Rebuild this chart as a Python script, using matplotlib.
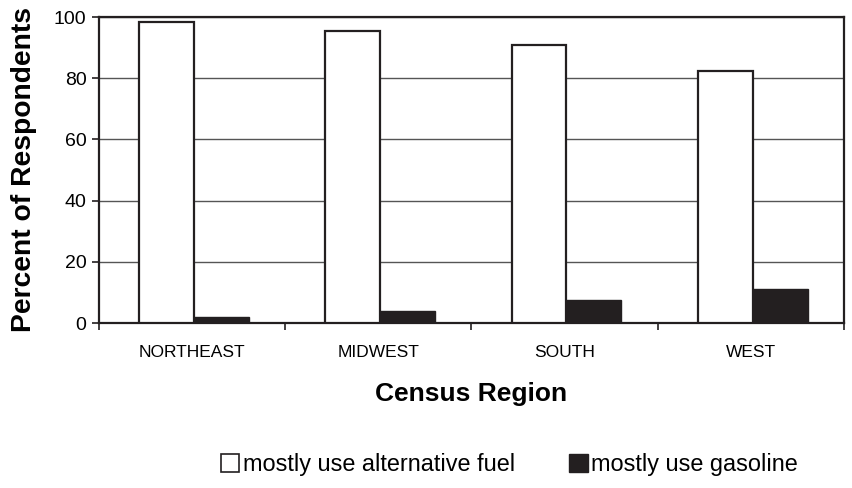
import numpy as np
import matplotlib.pyplot as plt
from matplotlib.patches import Patch

regions = ["NORTHEAST", "MIDWEST", "SOUTH", "WEST"]
alt_fuel = [98.3, 95.4, 91.0, 82.5]
gasoline = [1.8, 3.9, 7.5, 11.1]
yticks = [0, 20, 40, 60, 80, 100]

plt.rcParams['font.family'] = ['Liberation Sans', 'DejaVu Sans']

fig = plt.figure(figsize=(8.53, 4.88), dpi=100)
ax = fig.add_axes([99 / 853, 1 - 323 / 488, 745 / 853, 306 / 488])

x = np.arange(len(regions))
w = 0.295
ax.bar(x + 0.215, alt_fuel, width=w, align='edge', color='white', edgecolor='#231f20', linewidth=1.6, zorder=3)
ax.bar(x + 0.215 + w, gasoline, width=w, align='edge', color='#231f20', edgecolor='#231f20', linewidth=1.0, zorder=3)

ax.set_xlim(0, 4)
ax.set_ylim(0, 100)
ax.set_yticks(yticks)
ax.yaxis.grid(True, color='#555555', linewidth=1.0, zorder=0)
ax.set_xticks(np.arange(0, 5))
ax.set_xticklabels([])
ax.set_xticks(x + 0.5, minor=True)
ax.set_xticklabels(regions, minor=True, fontsize=12.5)
ax.tick_params(axis='x', which='minor', length=0, pad=16)
ax.tick_params(axis='x', which='major', length=5, width=1.2, direction='out', color='#231f20')
ax.tick_params(axis='y', length=5, width=1.2, direction='out', color='#231f20', labelsize=14, pad=4)
for s in ax.spines.values():
    s.set_color('#231f20')
    s.set_linewidth(1.6)

ax.set_xlabel("Census Region", fontsize=19, fontweight='bold', labelpad=16)
ax.set_ylabel("Percent of Respondents", fontsize=20.3, fontweight='bold', labelpad=12)

handles = [Patch(facecolor='white', edgecolor='#231f20', linewidth=1.2),
           Patch(facecolor='#231f20', edgecolor='#231f20')]
fig.legend(handles, ["mostly use alternative fuel", "mostly use gasoline"],
           loc='center', bbox_to_anchor=(0.597, 1 - 465 / 488), ncol=2, frameon=False,
           fontsize=16.9, handlelength=0.8, handleheight=0.8, handletextpad=0.15, columnspacing=2.3)

fig.savefig("out.png", dpi=100)
